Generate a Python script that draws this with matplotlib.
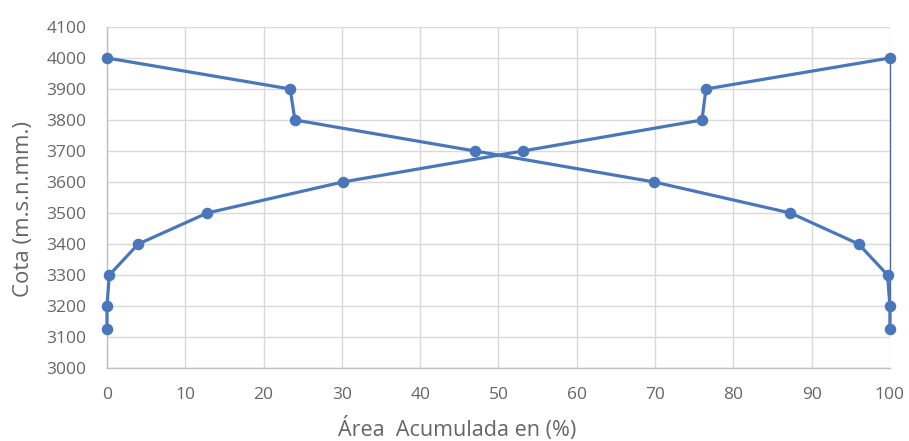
import matplotlib
matplotlib.use("Agg")
import matplotlib.pyplot as plt

# Data
cota = [3125, 3200, 3300, 3400, 3500, 3600, 3700, 3800, 3900, 4000]
area_acum_desc = [100, 100, 99.7, 96.0, 87.3, 69.9, 47.0, 24.0, 23.4, 0]
area_acum_asc = [0, 0, 0.3, 4.0, 12.8, 30.1, 53.1, 76.0, 76.5, 100]
x_ticks = list(range(0, 101, 10))
y_ticks = list(range(3000, 4101, 100))

plt.rcParams['font.family'] = ['Open Sans', 'DejaVu Sans']

fig = plt.figure(figsize=(9.09, 4.41), dpi=100)
ax = fig.add_axes([0.1177, 0.1655, 0.8613, 0.7733])

blue = '#4A76BA'
line_kw = dict(color=blue, lw=2.3, marker='o', markersize=7.3,
               markerfacecolor=blue, markeredgecolor=blue, zorder=3,
               solid_joinstyle='round', clip_on=False)
ax.plot(area_acum_desc, cota, **line_kw)
ax.plot(area_acum_asc, cota, **line_kw)
# thin connector between the end points at 100 %
ax.plot([area_acum_asc[-1], area_acum_desc[0]], [cota[-1], cota[0]],
        color='#4F6A8F', lw=1.0, zorder=2, clip_on=False)

ax.set_xlim(0, 100)
ax.set_ylim(3000, 4100)
ax.set_xticks(x_ticks)
ax.set_yticks(y_ticks)
ax.grid(True, color='#D9D9D9', lw=1.0)
ax.set_axisbelow(True)
for s in ['top', 'right']:
    ax.spines[s].set_visible(False)
for s in ['left', 'bottom']:
    ax.spines[s].set_color('#BFBFBF')
    ax.spines[s].set_linewidth(1.0)
ax.tick_params(length=0, labelsize=12.5, colors='#666666')
ax.tick_params(axis='y', pad=15)
ax.tick_params(axis='x', pad=14)
ax.set_xlabel('Área  Acumulada en (%)', fontsize=15.5, color='#666666', va='center')
ax.set_ylabel('Cota (m.s.n.mm.)', fontsize=16, color='#666666')
ax.xaxis.set_label_coords(0.447, -0.178)
ax.yaxis.set_label_coords(-0.093, 0.466)

fig.savefig('out.png', dpi=100)
